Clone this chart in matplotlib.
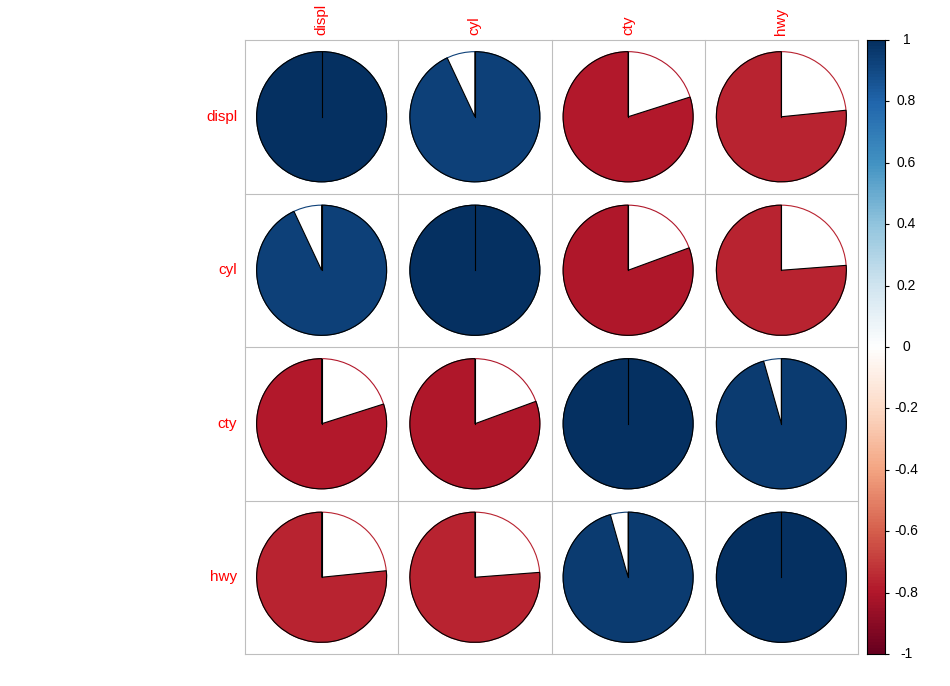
import numpy as np
import matplotlib
matplotlib.use("Agg")
import matplotlib.pyplot as plt
from matplotlib.patches import Wedge, Circle
from matplotlib.colors import LinearSegmentedColormap

# correlation matrix of mpg variables
variables = ["displ", "cyl", "cty", "hwy"]
corr = [
    [1.000, 0.930, -0.799, -0.766],
    [0.930, 1.000, -0.806, -0.762],
    [-0.799, -0.806, 1.000, 0.956],
    [-0.766, -0.762, 0.956, 1.000],
]
cbar_ticks = [1, 0.8, 0.6, 0.4, 0.2, 0, -0.2, -0.4, -0.6, -0.8, -1]

palette = ["#67001F", "#B2182B", "#D6604D", "#F4A582", "#FDDBC7", "#FFFFFF",
           "#D1E5F0", "#92C5DE", "#4393C3", "#2166AC", "#053061"]
cmap = LinearSegmentedColormap.from_list("rdbu", palette, N=200)

W, H = 950, 686
fig = plt.figure(figsize=(W / 100, H / 100), dpi=100)

# main grid axes (pixel box 245..858 x 40..654)
ax = fig.add_axes([245 / W, (H - 654) / H, 613 / W, 614 / H])
n = len(variables)
ax.set_xlim(0, n)
ax.set_ylim(0, n)
ax.axis("off")

rad = 0.424
for i in range(n):
    for j in range(n):
        r = corr[i][j]
        cx = j + 0.5
        cy = n - i - 0.5
        col = cmap((r + 1) / 2)
        ax.add_patch(Circle((cx, cy), rad, facecolor="white", edgecolor=col, lw=0.8, zorder=2))
        if r >= 0:
            t1, t2 = 90 - 360 * r, 90
        else:
            t1, t2 = 90, 90 + 360 * abs(r)
        ax.add_patch(Wedge((cx, cy), rad, t1, t2, facecolor=col, edgecolor="black", lw=0.8, zorder=3))
        ax.plot([cx, cx], [cy, cy + rad], color="black", lw=0.8, zorder=4)

for k in range(n + 1):
    ax.plot([k, k], [0, n], color="#BEBEBE", lw=0.8, zorder=1, clip_on=False)
    ax.plot([0, n], [k, k], color="#BEBEBE", lw=0.8, zorder=1, clip_on=False)

for k, name in enumerate(variables):
    ax.text(-0.05, n - k - 0.5, name, color="red", ha="right", va="center",
            fontsize=11, family="Liberation Sans")
    ax.text(k + 0.5, n + 0.035, name, color="red", ha="center", va="bottom",
            rotation=90, fontsize=11, family="Liberation Sans")

# colour legend
cax = fig.add_axes([867 / W, (H - 654) / H, 18 / W, 614 / H])
grad = np.linspace(1, -1, 200).reshape(-1, 1)
cax.imshow(grad, cmap=cmap, vmin=-1, vmax=1, aspect="auto", extent=[0, 1, -1, 1])
cax.set_xlim(0, 1)
cax.set_ylim(-1, 1)
cax.set_xticks([])
cax.yaxis.tick_right()
cax.set_yticks(cbar_ticks)
cax.set_yticklabels([])
cax.tick_params(axis="y", length=3, width=0.8, color="black")
for s in cax.spines.values():
    s.set_linewidth(0.8)
for t in cbar_ticks:
    cax.text(2.2, t, f"{t:g}", ha="center", va="center", fontsize=10,
             family="Liberation Sans", transform=cax.transData, clip_on=False)

fig.savefig("out.png", dpi=100, facecolor="white")
